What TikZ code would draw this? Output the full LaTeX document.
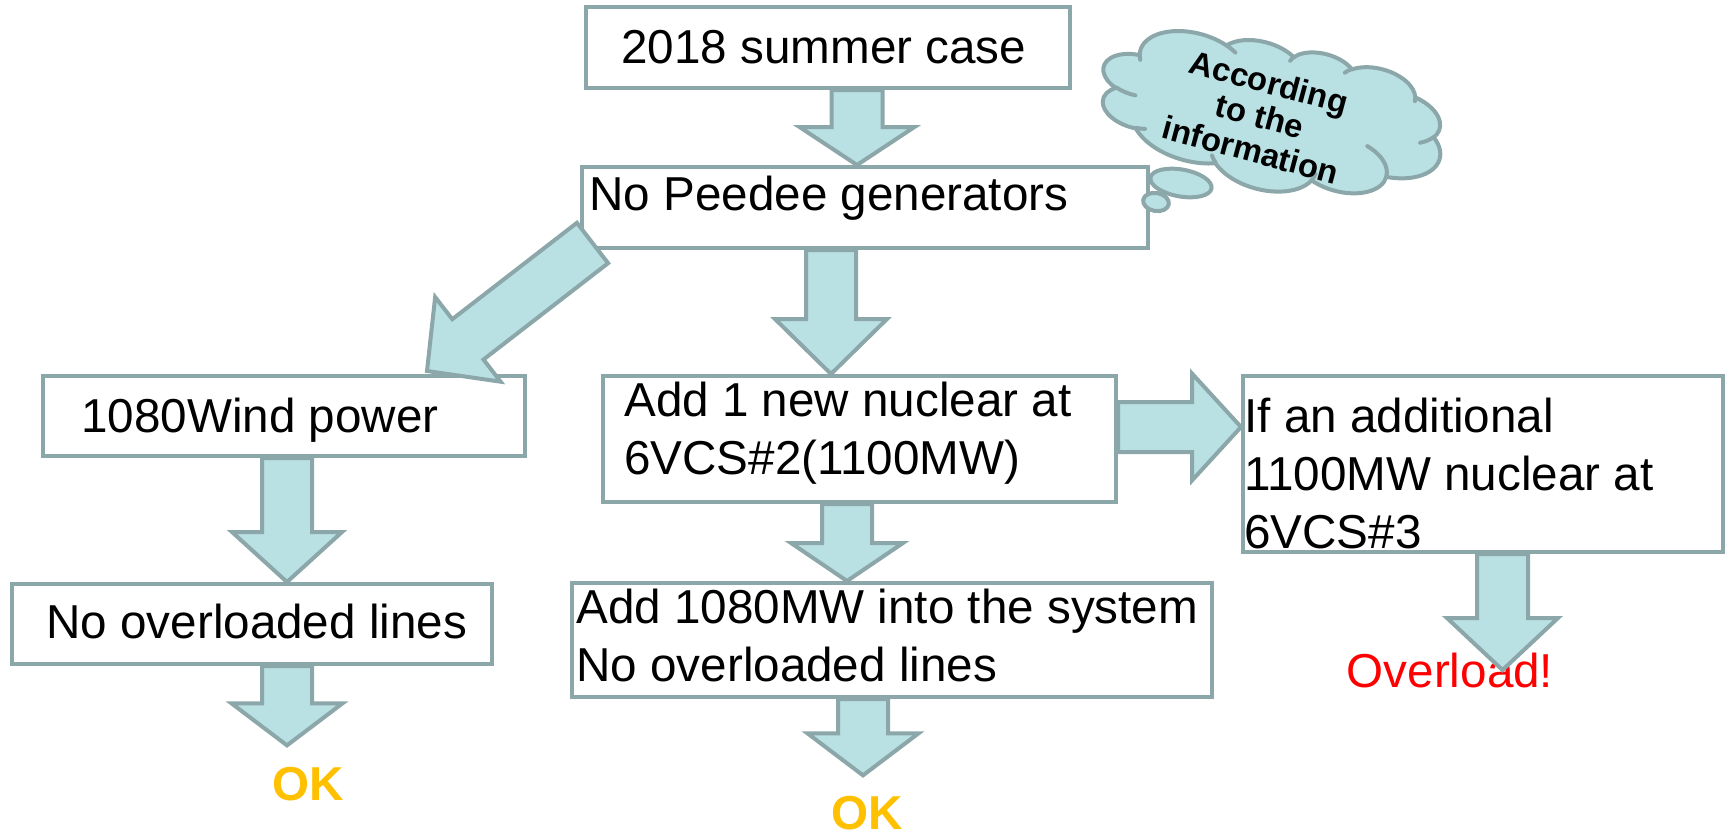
\documentclass[tikz,border=0pt]{standalone}
\usepackage{fontspec}
\setmainfont{Liberation Sans}
\usetikzlibrary{calc,fit}

\definecolor{edgegray}{RGB}{140,167,169}
\definecolor{arrowfill}{RGB}{185,224,227}
\definecolor{okgold}{RGB}{255,192,0}
\definecolor{alertred}{RGB}{255,0,0}

\newcommand{\mainfs}{\fontsize{23.8pt}{29pt}\selectfont}
\newcommand{\cloudfs}{\fontsize{16.4pt}{17.6pt}\selectfont\bfseries}

% block arrow: #1 tail point, #2 tip point, #3 half shaft width,
% #4 half head width, #5 head length
\newcommand{\blockarrow}[5]{%
  \coordinate (ba-h) at ($(#2)!#5!(#1)$);
  \filldraw[blk] ($(#1)!#3!90:(#2)$) -- ($(ba-h)!#3!90:(#2)$)
    -- ($(ba-h)!#4!90:(#2)$) -- (#2)
    -- ($(ba-h)!#4!-90:(#2)$) -- ($(ba-h)!#3!-90:(#2)$)
    -- ($(#1)!#3!-90:(#2)$) -- cycle;
}

\begin{document}
\begin{tikzpicture}[x=0.5pt,y=-0.5pt,
  box/.style={draw=edgegray, line width=2pt, fill=white, inner sep=0pt, rectangle},
  lbl/.style={inner sep=0pt, font=\mainfs},
  outcome/.style={inner sep=0pt, font=\mainfs\bfseries, text=okgold},
  blk/.style={draw=edgegray, fill=arrowfill, line width=2pt, line join=miter},
  puff/.style={draw=edgegray, fill=arrowfill, line width=2pt, line join=round},
  crease/.style={draw=edgegray, line width=2pt, line cap=round}]

\useasboundingbox (0,0) rectangle (1726,836);

% boxes
\node[box, fit={(586,7) (1070,88)}] (sumcase) {};
\node[box, fit={(582,167) (1148,248)}] (nopeedee) {};
\node[box, fit={(43,376) (525,456)}] (wind) {};
\node[box, fit={(603,376) (1116,502)}] (nucA) {};
\node[box, fit={(1243,376) (1723,552)}] (nucB) {};
\node[box, fit={(12,584) (492,664)}] (nolines) {};
\node[box, fit={(572,583) (1212,697)}] (addsys) {};

% box texts
\node[lbl, anchor=base west] (sumcase-t) at (621,63) {2018 summer case};
\node[lbl, anchor=base west] (nopeedee-t) at (589,210) {No Peedee generators};
\node[lbl, anchor=base west] (wind-t) at (81,432) {1080Wind power};
\node[lbl, anchor=base west] (nucA-t) at (624,416)
  {\parbox[t]{300pt}{Add 1 new nuclear at\\6VCS\#2(1100MW)}};
\node[lbl, anchor=base west] (nucB-t) at (1244,432)
  {\parbox[t]{300pt}{If an additional\\1100MW nuclear at\\6VCS\#3}};
\node[lbl, anchor=base west] (nolines-t) at (46,638) {No overloaded lines};
\node[lbl, anchor=base west] (addsys-t) at (576,623)
  {\parbox[t]{340pt}{Add 1080MW into the system\\No overloaded lines}};

% outcomes
\node[outcome, anchor=base] (ok1) at (308,800) {OK};
\node[outcome, anchor=base] (ok2) at (867,829) {OK};
\node[lbl, anchor=base, text=alertred] (overload) at (1450,687) {Overload!};

% connectors
\coordinate (a1s) at ($(sumcase.south)+(29,0)$);
\coordinate (a1e) at (a1s |- nopeedee.north);
\blockarrow{a1s}{a1e}{12.75pt}{28.75pt}{19pt}

\coordinate (a2s) at ($(nopeedee.south)+(-34,0)$);
\coordinate (a2e) at (a2s |- nucA.north);
\blockarrow{a2s}{a2e}{12.5pt}{28pt}{27.5pt}

\coordinate (a3s) at ($(nopeedee.south west)+(12.5,-7)$);
\coordinate (a3e) at ($(wind.north east)+(-100,-3)$);
\blockarrow{a3s}{a3e}{12.75pt}{26.75pt}{25.85pt}

\coordinate (a4s) at ($(wind.south)+(3,0)$);
\coordinate (a4e) at (a4s |- nolines.north);
\blockarrow{a4s}{a4e}{12.5pt}{27.5pt}{25pt}

\coordinate (a5s) at ($(nolines.south)+(35,0)$);
\coordinate (a5e) at ($(a5s |- ok1.north)+(0,-21)$);
\blockarrow{a5s}{a5e}{12.5pt}{27.75pt}{21pt}

\coordinate (a6s) at ($(nucA.south)+(-12.5,0)$);
\coordinate (a6e) at (a6s |- addsys.north);
\blockarrow{a6s}{a6e}{12.5pt}{28pt}{19pt}

\coordinate (a7s) at ($(addsys.south)+(-29,0)$);
\coordinate (a7e) at ($(a7s |- ok2.north)+(0,-20)$);
\blockarrow{a7s}{a7e}{12.5pt}{27.75pt}{21pt}

\coordinate (a8s) at ($(nucA.east)+(0,-12)$);
\coordinate (a8e) at (a8s -| nucB.west);
\blockarrow{a8s}{a8e}{12.5pt}{26.75pt}{24.5pt}

\coordinate (a9s) at ($(nucB.south)+(19.5,0)$);
\coordinate (a9e) at ($(a9s |- overload.base)+(0,-17)$);
\blockarrow{a9s}{a9e}{12.75pt}{27.75pt}{26pt}

% thought bubbles trailing from the cloud
\filldraw[puff, rotate around={-10:(1181,183)}] (1181,183) ellipse [x radius=31, y radius=13.5];
\filldraw[puff, rotate around={-10:(1156,202)}] (1156,202) ellipse [x radius=13, y radius=9];

% thought cloud: outline of eleven elliptic puffs plus the inner creases
\begin{scope}[shift={(1271,115.5)}, rotate=-15, x=0.40278pt, y=-0.1713pt]
\filldraw[puff]
  (-177,-72.3)
  arc[start angle=-187.75, end angle=-59.64, x radius=67.53, y radius=91.90]
  arc[start angle=-152.02, end angle=-45.44, x radius=53.33, y radius=72.67]
  arc[start angle=-153.49, end angle=-37.33, x radius=43.65, y radius=59.45]
  arc[start angle=-139.69, end angle=-10.21, x radius=48.57, y radius=65.95]
  arc[start angle=-74.77, end angle=23.21, x radius=53.33, y radius=72.73]
  arc[start angle=-37.53, end angle=81.86, x radius=67.75, y radius=92.20]
  arc[start angle=0.46, end angle=121.97, x radius=57.85, y radius=78.67]
  arc[start angle=16.84, end angle=146.25, x radius=67.52, y radius=92.15]
  arc[start angle=58.98, end angle=150.20, x radius=77.20, y radius=105.43]
  arc[start angle=-276.69, end angle=-136.87, x radius=43.60, y radius=59.18]
  arc[start angle=-239.64, end angle=-95.89, x radius=43.45, y radius=59.45]
  -- cycle;
\draw[crease]
  (-169.07,45.77) arc[start angle=85.55, end angle=120.36, x radius=43.45, y radius=59.45]
  (-146.72,132.99) arc[start angle=68.23, end angle=83.31, x radius=43.60, y radius=59.18]
  (-51.22,174.90) arc[start angle=146.25, end angle=158.47, x radius=67.52, y radius=92.15]
  (72.27,131.51) arc[start angle=4.74, end angle=16.84, x radius=67.52, y radius=92.15]
  (125.29,13.54) arc[start angle=-64.03, end angle=0.46, x radius=57.85, y radius=78.67]
  (201.98,-62.46) arc[start angle=23.21, end angle=49.64, x radius=53.33, y radius=72.73]
  (167.24,-161.74) arc[start angle=-10.21, end angle=0.82, x radius=48.57, y radius=65.95]
  (74.78,-176.48) arc[start angle=-156.28, end angle=-139.69, x radius=48.57, y radius=65.95]
  (5.41,-168.80) arc[start angle=-167.73, end angle=-153.49, x radius=43.65, y radius=59.45]
  (-76.00,-164.08) arc[start angle=-59.64, end angle=-45.72, x radius=67.53, y radius=91.90]
  (-174.73,-58.11) arc[start angle=163.19, end angle=172.25, x radius=67.53, y radius=91.90];
\end{scope}
\node[inner sep=0pt, font=\cloudfs, align=center, rotate=-15] (thought-t) at (1260,116)
  {According\\to the\\information};

\end{tikzpicture}
\end{document}
